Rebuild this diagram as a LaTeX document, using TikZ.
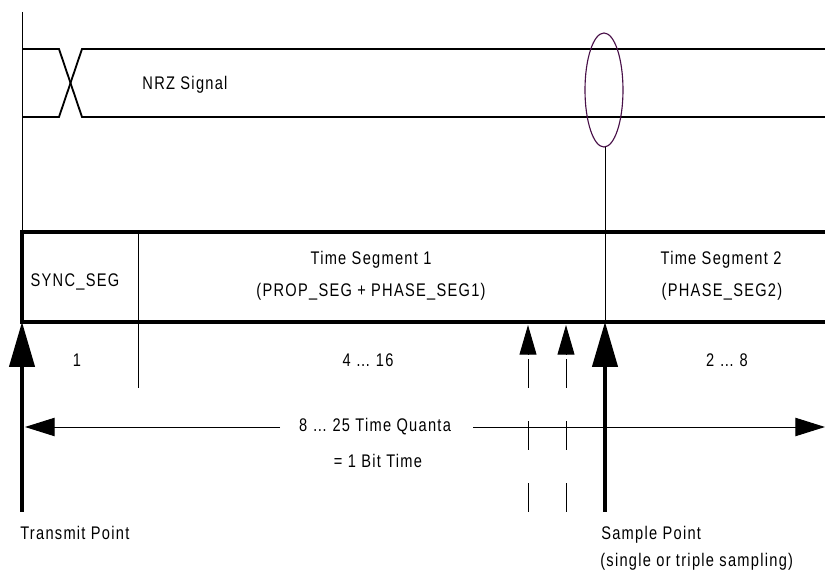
\documentclass[tikz,border=0pt]{standalone}
\usepackage{fontspec}
\setmainfont{Liberation Sans}[FakeStretch=0.8,LetterSpace=7]
\usetikzlibrary{arrows.meta}
\definecolor{ovalpurple}{RGB}{72,16,72}
\tikzset{
  thinline/.style={line width=0.7pt},
  sigline/.style={line width=1.3pt},
  frameline/.style={line width=2.8pt},
  bigarrow/.style={line width=2.4pt,-{Triangle[length=32pt,width=18pt]}},
  smallarrow/.style={line width=0.7pt,-{Triangle[length=21pt,width=12pt]}},
  spanarrow/.style={line width=0.7pt,-{Triangle[length=21pt,width=13pt]}},
  dashline/.style={line width=0.7pt,dash pattern=on 0.725cm off 0.825cm},
  lbl/.style={inner sep=0pt}
}
\begin{document}
\begin{tikzpicture}[x=0.025cm,y=-0.025cm,font=\fontsize{13}{15}\selectfont]
    \useasboundingbox (0,0) rectangle (825,571);

    % signal
    \draw[sigline] (22,49) -- (59,49) -- (82,117) -- (825,117);
    \draw[sigline] (22,117) -- (59,117) -- (82,49) -- (825,49);
    \node[lbl] (nrz) at (185,85) {NRZ Signal};
    \draw[thinline] (22,12) -- (22,232);
    \draw[ovalpurple, line width=0.8pt] (604,90) ellipse [x radius=0.475cm, y radius=1.425cm];

    % bit frame
    \draw[thinline] (605,147) -- (605,322);
    \draw[thinline] (138,232) -- (138,388);
    \draw[frameline] (825,232) -- (22,232) -- (22,322) -- (825,322);

    \node[lbl] (sync) at (75,282) {SYNC\_SEG};
    \node[lbl] (ts1a) at (371,260) {Time Segment 1};
    \node[lbl] (ts1b) at (371,292) {(PROP\_SEG + PHASE\_SEG1)};
    \node[lbl] (ts2a) at (721,260) {Time Segment 2};
    \node[lbl] (ts2b) at (722,292) {(PHASE\_SEG2)};

    \node[lbl] (n1) at (77,360) {1};
    \node[lbl] (n2) at (368,360) {4 … 16};
    \node[lbl] (n3) at (727,360) {2 … 8};

    % sample points
    \coordinate (tx) at (22,512);
    \coordinate (txtip) at (22,322);
    \coordinate (sp) at (605,512);
    \coordinate (sptip) at (605,322);
    \draw[bigarrow] (tx) -- (txtip);
    \draw[bigarrow] (sp) -- (sptip);

    \foreach \x in {528,566} {
        \draw[smallarrow] (\x,355) -- (\x,325);
        \draw[dashline] (\x,512) -- (\x,358);
    }

    % bit time
    \node[lbl] (quanta) at (375,427) {8 … 25 Time Quanta};
    \node[lbl] (bittime) at (378,461) {= 1 Bit Time};
    \coordinate (qleft) at (280,427);
    \coordinate (qright) at (473,427);
    \draw[spanarrow] (qleft) -- (25,427);
    \draw[spanarrow] (qright) -- (825,427);

    \node[lbl,anchor=west] (txlbl) at (20,533) {Transmit Point};
    \node[lbl,anchor=west] (splbl) at (601,535) {Sample Point};
    \node[lbl,anchor=west] (splbl2) at (600,562) {(single or triple sampling)};
\end{tikzpicture}
\end{document}
